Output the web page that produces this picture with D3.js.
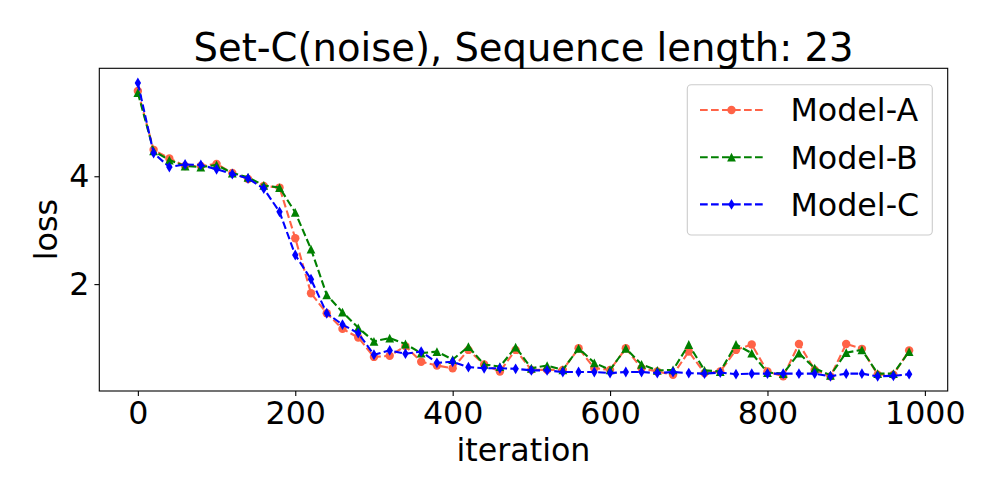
<!DOCTYPE html>
<html>
<head>
<meta charset="utf-8">
<script src="https://d3js.org/d3.v7.min.js"></script>
<style>
  body { margin: 0; background: #fff; }
  text { font-family: "DejaVu Sans", sans-serif; fill: #000; }
</style>
</head>
<body>
<svg id="chart" width="1000" height="500"></svg>
<script>
// data
const iterations = [0, 20, 40, 60, 80, 100, 120, 140, 160, 180, 200, 220, 240, 260, 280, 300, 320, 340, 360, 380,
  400, 420, 440, 460, 480, 500, 520, 540, 560, 580, 600, 620, 640, 660, 680, 700, 720, 740, 760, 780,
  800, 820, 840, 860, 880, 900, 920, 940, 960, 980];

const modelA = [5.58, 4.49, 4.33, 4.19, 4.19, 4.23, 4.06, 3.95, 3.82, 3.79, 2.85, 1.83, 1.46, 1.17, 1.01, 0.65, 0.67, 0.85, 0.56, 0.49,
  0.44, 0.78, 0.51, 0.38, 0.78, 0.41, 0.41, 0.41, 0.81, 0.44, 0.41, 0.81, 0.44, 0.38, 0.32, 0.75, 0.35, 0.38, 0.78, 0.88,
  0.38, 0.29, 0.89, 0.41, 0.29, 0.89, 0.80, 0.32, 0.32, 0.77];

const modelB = [5.55, 4.47, 4.30, 4.19, 4.17, 4.21, 4.06, 3.98, 3.83, 3.79, 3.33, 2.65, 1.80, 1.48, 1.19, 0.94, 1.00, 0.89, 0.72, 0.75,
  0.60, 0.84, 0.51, 0.47, 0.83, 0.44, 0.49, 0.41, 0.81, 0.54, 0.41, 0.81, 0.51, 0.40, 0.41, 0.88, 0.40, 0.38, 0.88, 0.72,
  0.36, 0.34, 0.72, 0.44, 0.31, 0.73, 0.78, 0.34, 0.34, 0.75];

const modelC = [5.73, 4.43, 4.17, 4.22, 4.21, 4.13, 4.04, 3.96, 3.77, 3.34, 2.54, 2.09, 1.46, 1.25, 1.09, 0.69, 0.77, 0.71, 0.75, 0.54,
  0.56, 0.46, 0.44, 0.44, 0.43, 0.40, 0.40, 0.37, 0.37, 0.37, 0.35, 0.37, 0.37, 0.35, 0.37, 0.35, 0.34, 0.36, 0.33, 0.34,
  0.34, 0.34, 0.34, 0.34, 0.29, 0.34, 0.34, 0.29, 0.30, 0.33];

const seriesNames = ['Model-A', 'Model-B', 'Model-C'];
const xTicks = [0, 200, 400, 600, 800, 1000];
const yTicks = [2, 4];

const series = [
  {name: seriesNames[0], values: modelA, color: '#ff6347', marker: 'circle'},
  {name: seriesNames[1], values: modelB, color: '#008000', marker: 'triangle'},
  {name: seriesNames[2], values: modelC, color: '#0000ff', marker: 'thindiamond'}
];

const svg = d3.select('svg#chart');
const plot = {left: 99.3, right: 947.7, top: 68.3, bottom: 391};
const labelSize = 31.7;

// matplotlib style 5% margins
const xExt = d3.extent(iterations);
const xPad = (xExt[1] - xExt[0]) * 0.05;
const allY = modelA.concat(modelB, modelC);
const yExt = d3.extent(allY);
const yPad = (yExt[1] - yExt[0]) * 0.05;

const x = d3.scaleLinear().domain([xExt[0] - xPad, xExt[1] + xPad]).range([plot.left, plot.right]);
const y = d3.scaleLinear().domain([yExt[0] - yPad, yExt[1] + yPad]).range([plot.bottom, plot.top]);

// marker shapes
function markerPath(type) {
  if (type === 'triangle') {
    const s = 4.4;
    return `M0,${-s}L${s},${s}L${-s},${s}Z`;
  }
  if (type === 'thindiamond') {
    const h = 5.4, w = 3.2;
    return `M0,${-h}L${w},0L0,${h}L${-w},0Z`;
  }
  return null;
}

function drawMarker(g, type, color, cx, cy) {
  if (type === 'circle') {
    g.append('circle').attr('cx', cx).attr('cy', cy).attr('r', 4.2).attr('fill', color);
  } else {
    g.append('path').attr('d', markerPath(type))
      .attr('transform', `translate(${cx},${cy})`)
      .attr('fill', color);
  }
}

const line = d3.line().x((d, i) => x(iterations[i])).y(d => y(d));

const chartArea = svg.append('g');
series.forEach(s => {
  chartArea.append('path')
    .datum(s.values)
    .attr('d', line)
    .attr('fill', 'none')
    .attr('stroke', s.color)
    .attr('stroke-width', 2.1)
    .attr('stroke-dasharray', '7.7,3.3');
  s.values.forEach((v, i) => drawMarker(chartArea, s.marker, s.color, x(iterations[i]), y(v)));
});

// axes
const bottomAxis = d3.axisBottom(x).tickValues(xTicks).tickSize(4.9).tickPadding(4.9).tickFormat(d3.format('d'));
const gx = svg.append('g').attr('transform', `translate(0,${plot.bottom})`).call(bottomAxis);
gx.select('.domain').remove();
gx.selectAll('line').attr('stroke', '#000').attr('stroke-width', 1.1);
gx.selectAll('text').attr('font-size', labelSize).attr('font-family', 'DejaVu Sans').attr('fill', '#000').attr('dy', '0.72em');

const leftAxis = d3.axisLeft(y).tickValues(yTicks).tickSize(4.9).tickPadding(4.9).tickFormat(d3.format('d'));
const gy = svg.append('g').attr('transform', `translate(${plot.left},0)`).call(leftAxis);
gy.select('.domain').remove();
gy.selectAll('line').attr('stroke', '#000').attr('stroke-width', 1.1);
gy.selectAll('text').attr('font-size', labelSize).attr('font-family', 'DejaVu Sans').attr('fill', '#000');

// frame
svg.append('rect')
  .attr('x', plot.left).attr('y', plot.top)
  .attr('width', plot.right - plot.left).attr('height', plot.bottom - plot.top)
  .attr('fill', 'none').attr('stroke', '#000').attr('stroke-width', 1.1);

// titles
svg.append('text').attr('x', (plot.left + plot.right) / 2).attr('y', 61)
  .attr('text-anchor', 'middle').attr('font-size', 38.5)
  .text('Set-C(noise), Sequence length: 23');

svg.append('text').attr('x', (plot.left + plot.right) / 2).attr('y', 461)
  .attr('text-anchor', 'middle').attr('font-size', labelSize)
  .text('iteration');

svg.append('text')
  .attr('transform', `translate(57,${(plot.top + plot.bottom) / 2}) rotate(-90)`)
  .attr('text-anchor', 'middle').attr('font-size', labelSize)
  .text('loss');

// legend
const legend = svg.append('g');
legend.append('rect')
  .attr('x', 687.3).attr('y', 84.7).attr('width', 245).attr('height', 150.3)
  .attr('rx', 4).attr('fill', '#fff').attr('fill-opacity', 0.8)
  .attr('stroke', '#cccccc').attr('stroke-width', 1.1);

series.forEach((s, i) => {
  const ly = 110 + i * 47.2;
  legend.append('line')
    .attr('x1', 700).attr('x2', 762.7).attr('y1', ly).attr('y2', ly)
    .attr('stroke', s.color).attr('stroke-width', 2.1).attr('stroke-dasharray', '7.7,3.3');
  drawMarker(legend, s.marker, s.color, 731.5, ly);
  legend.append('text').attr('x', 790.5).attr('y', ly).attr('dy', '0.36em')
    .attr('font-size', labelSize).text(s.name);
});
</script>
</body>
</html>
